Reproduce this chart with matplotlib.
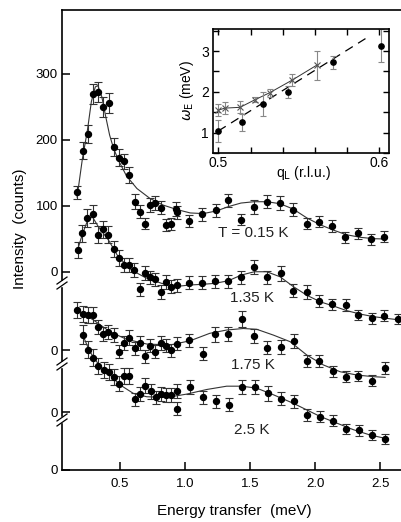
import numpy as np
import matplotlib.pyplot as plt
from matplotlib.lines import Line2D
from matplotlib.patches import Rectangle

plt.rcParams['font.family'] = ['Liberation Sans', 'DejaVu Sans']

# ---- main panel data: energy (meV), counts, error ----
e_015 = [0.172, 0.213, 0.251, 0.292, 0.331, 0.372, 0.413, 0.451, 0.492, 0.531, 0.572, 0.613,
         0.651, 0.692, 0.731, 0.772, 0.813, 0.854, 0.892, 0.933, 0.936, 1.033, 1.133, 1.236,
         1.333, 1.431, 1.533, 1.628, 1.731, 1.833, 1.936, 2.033, 2.133, 2.231, 2.333, 2.431, 2.533]
c_015 = [120, 183, 209, 269, 272, 250, 256, 189, 173, 167, 146, 106,
         91, 73, 101, 104, 97, 71, 72, 95, 90, 77, 87, 93,
         108, 79, 98, 106, 104, 94, 73, 76, 69, 52, 58, 49, 53]
s_015 = [10, 13, 14, 15, 15, 15, 15, 13, 13, 12, 12, 11,
         10, 9, 10, 10, 10, 9, 9, 10, 10, 9, 10, 10,
         10, 9, 10, 10, 10, 10, 9, 9, 9, 8, 8, 8, 8]

e_135 = [0.174, 0.21, 0.249, 0.29, 0.328, 0.372, 0.41, 0.451, 0.495, 0.531, 0.572, 0.61,
         0.654, 0.692, 0.731, 0.769, 0.813, 0.854, 0.892, 0.936, 1.033, 1.133, 1.231, 1.333,
         1.433, 1.533, 1.633, 1.736, 1.833, 1.936, 2.03, 2.133, 2.236, 2.333, 2.436, 2.533, 2.636]
c_135 = [152, 177, 200, 206, 175, 183, 175, 153, 139, 129, 129, 121,
         92, 117, 110, 107, 88, 103, 96, 98, 102, 102, 104, 104,
         110, 126, 110, 116, 90, 88, 74, 69, 68, 53, 48, 52, 47]
s_135 = [12, 13, 14, 14, 13, 13, 13, 12, 12, 11, 11, 11,
         10, 11, 10, 10, 10, 10, 10, 10, 10, 10, 10, 10,
         10, 11, 10, 11, 10, 10, 9, 9, 9, 8, 8, 8, 8]

e_175 = [0.172, 0.213, 0.251, 0.29, 0.333, 0.372, 0.41, 0.454, 0.495, 0.531, 0.572, 0.613,
         0.654, 0.695, 0.731, 0.772, 0.813, 0.854, 0.892, 0.936, 1.033, 1.136, 1.231, 1.333,
         1.436, 1.533, 1.633, 1.736, 1.838, 1.936, 2.033, 2.136, 2.236, 2.333, 2.436, 2.538]
c_175 = [155, 149, 147, 147, 129, 119, 122, 117, 92, 105, 113, 97,
         105, 85, 101, 92, 105, 101, 94, 104, 109, 89, 118, 119,
         142, 116, 98, 99, 108, 78, 78, 62, 54, 55, 48, 67]
s_175 = [12, 12, 12, 12, 11, 11, 11, 11, 10, 10, 11, 10,
         10, 10, 10, 10, 10, 10, 10, 10, 10, 10, 11, 11,
         12, 11, 10, 10, 10, 9, 9, 8, 8, 8, 8, 9]

e_25 = [0.213, 0.256, 0.295, 0.333, 0.377, 0.415, 0.456, 0.495, 0.533, 0.572, 0.618, 0.654,
        0.695, 0.736, 0.777, 0.815, 0.854, 0.892, 0.936, 0.936, 1.038, 1.136, 1.236, 1.338,
        1.436, 1.538, 1.636, 1.738, 1.838, 1.936, 2.038, 2.141, 2.238, 2.338, 2.44, 2.538]
c_25 = [205, 182, 170, 157, 152, 149, 141, 131, 143, 143, 107, 115,
        128, 119, 110, 115, 114, 114, 120, 93, 126, 110, 104, 99,
        126, 126, 116, 108, 104, 83, 81, 75, 62, 60, 53, 47]
s_25 = [14, 13, 13, 12, 12, 12, 12, 11, 12, 12, 10, 11,
        11, 11, 10, 11, 11, 11, 11, 10, 11, 10, 10, 10,
        11, 11, 11, 10, 10, 9, 9, 9, 8, 8, 8, 8]

# fitted curves
fe_015 = [0.17, 0.21, 0.25, 0.28, 0.31, 0.33, 0.36, 0.39, 0.42, 0.45, 0.49, 0.55, 0.63, 0.73, 0.83,
          0.94, 1.04, 1.14, 1.24, 1.34, 1.43, 1.53, 1.63, 1.73, 1.83, 1.94, 2.04, 2.14, 2.24, 2.35,
          2.45, 2.54]
fc_015 = [113, 170, 215, 258, 280, 282, 265, 235, 207, 187, 168, 145, 126, 111, 101,
          94, 89, 88, 92, 99, 104, 106, 106, 103, 95, 81, 71, 63, 56, 52,
          50, 49.5]
fe_135 = [0.174, 0.21, 0.25, 0.287, 0.333, 0.41, 0.487, 0.59, 0.692, 0.82, 0.923, 1.033, 1.13, 1.23,
          1.333, 1.433, 1.533, 1.628, 1.73, 1.833, 1.936, 2.04, 2.14, 2.244, 2.346, 2.45, 2.55, 2.65]
fc_135 = [152, 175, 196, 202, 187, 167, 141, 121, 110, 101, 96, 98.5, 99.5, 101,
          105, 113.6, 118.6, 118.6, 111, 96, 83, 73, 66.7, 59.6, 54.5, 50.5, 48, 45.5]
fe_175 = [0.172, 0.295, 0.423, 0.551, 0.705, 0.885, 1.04, 1.19, 1.32, 1.448, 1.551, 1.679, 1.808,
          1.936, 2.064, 2.192, 2.32, 2.449, 2.538]
fc_175 = [154, 140, 122, 110.6, 103.5, 102, 108.5, 119.7, 124.7, 127, 125.8, 117, 107,
          86.8, 71.7, 61.5, 56.5, 54, 53]
fe_25 = [0.223, 0.269, 0.346, 0.423, 0.5, 0.603, 0.705, 0.859, 1.013, 1.167, 1.32, 1.436, 1.551,
         1.679, 1.833, 1.936, 2.04, 2.167, 2.295, 2.423, 2.538]
fc_25 = [200, 179, 157, 144, 129, 116, 111, 110, 115, 122, 127, 127, 124,
         114, 101, 91, 81, 71, 61, 53, 48]

temps = ['T = 0.15 K', '1.35 K', '1.75 K', '2.5 K']
offsets = [300.5, 181.8, 87.4, 0]

# ---- inset data ----
q_dot = [0.500, 0.5145, 0.528, 0.543, 0.571, 0.601]
w_dot = [1.04, 1.25, 1.70, 1.99, 2.72, 3.13]
w_dot_err = [0.27, 0.2, 0.3, 0.15, 0.15, 0.4]
q_x = [0.500, 0.504, 0.5135, 0.523, 0.532, 0.546, 0.561]
w_x = [1.55, 1.60, 1.62, 1.81, 1.98, 2.29, 2.65]
w_x_err = [0.15, 0.15, 0.15, 0.07, 0.1, 0.15, 0.35]
q_line = [0.5, 0.592]
w_line = [1.04, 3.32]

fig = plt.figure(figsize=(4.01, 5.22), dpi=100)
ax = fig.add_axes([62/401, 52/522, 339/401, 460/522])

curves = [(e_015, c_015, s_015, fe_015, fc_015),
          (e_135, c_135, s_135, fe_135, fc_135),
          (e_175, c_175, s_175, fe_175, fc_175),
          (e_25, c_25, s_25, fe_25, fc_25)]
label_pos = [(1.523, 359), (1.515, 260.6), (1.523, 159), (1.515, 60.6)]

for (e, c, s, fe, fc), off, t, lp in zip(curves, offsets, temps, label_pos):
    ax.plot(fe, np.array(fc) + off, color='#333333', lw=0.8, zorder=2)
    ax.errorbar(e, np.array(c) + off, yerr=s, fmt='o', color='k', ms=4.3,
                ecolor='#333333', elinewidth=0.8, capsize=3, capthick=0.8, zorder=3)
    ax.text(lp[0], lp[1], t, ha='center', va='center', fontsize=11, color='#222222')

ax.set_xlim(0.054, 2.66)
ax.set_ylim(0, 697)
ax.set_xticks([0.5, 1.0, 1.5, 2.0, 2.5])
ax.set_yticks([0, 87.4, 181.8, 300.5, 400.5, 500.5, 600.5])
ax.set_yticklabels(['0', '0', '0', '0', '100', '200', '300'])
ax.tick_params(direction='in', length=6, width=1.1, labelsize=9.5)
ax.tick_params(axis='x', pad=6)
ax.tick_params(axis='y', pad=3)
ax.spines['right'].set_visible(False)
for sp in ['left', 'bottom', 'top']:
    ax.spines[sp].set_linewidth(1.2)

fig.text(234/401, 1 - 511/522, 'Energy transfer  (meV)', ha='center', va='center', fontsize=11)
fig.text(20/401, 1 - 229/522, 'Intensity  (counts)', ha='center', va='center',
         rotation=90, fontsize=11)

# axis breaks on the left spine
xs = 62/401
for yb in [283.3, 160.6, 75.8]:
    yf = (52 + yb*460/697)/522
    fig.add_artist(Rectangle((xs - 2/401, yf - 2.5/522), 4/401, 5/522,
                             transform=fig.transFigure, color='white', zorder=5))
    for d in [-2.5, 2.5]:
        fig.add_artist(Line2D([xs - 5/401, xs + 5/401],
                              [yf + (d - 3.5)/522, yf + (d + 3.5)/522],
                              transform=fig.transFigure, color='k', lw=0.9, zorder=6))

# inset
ins = fig.add_axes([213/401, 1 - 153/522, 176/401, 124/522])
ins.plot(q_line, w_line, color='k', lw=0.9, dashes=(7, 5))
ins.plot(q_x, w_x, color='#333333', lw=0.7)
ins.errorbar(q_x, w_x, yerr=w_x_err, fmt='x', color='#555555', ms=4, mew=0.8,
             ecolor='#888888', elinewidth=0.8, capsize=2.5, capthick=0.8)
ins.errorbar(q_dot, w_dot, yerr=w_dot_err, fmt='o', color='k', ms=3.8,
             ecolor='#888888', elinewidth=0.8, capsize=2.5, capthick=0.8)
ins.set_xlim(0.4967, 0.606)
ins.set_ylim(0.5, 3.54)
ins.set_xticks([0.5, 0.6])
ins.set_xticklabels(['0.5', '0.6'])
ins.set_xticks(np.arange(0.52, 0.59, 0.02), minor=True)
ins.set_yticks([1, 2, 3])
ins.set_yticks([0.5, 1.5, 2.5, 3.5], minor=True)
ins.tick_params(which='both', direction='in', length=4, width=1, top=True, right=True, labelsize=10)
ins.tick_params(axis='y', pad=3)
ins.tick_params(axis='x', pad=2)
for sp in ins.spines.values():
    sp.set_linewidth(1.2)
fig.text(303/401, 1 - 173/522, r'q$_\mathrm{L}$ (r.l.u.)', ha='center', va='center', fontsize=10)
fig.text(187/401, 1 - 91/522, r'$\omega_\mathrm{E}$ (meV)', ha='center', va='center',
         rotation=90, fontsize=10)

fig.savefig('out.png', dpi=100)
